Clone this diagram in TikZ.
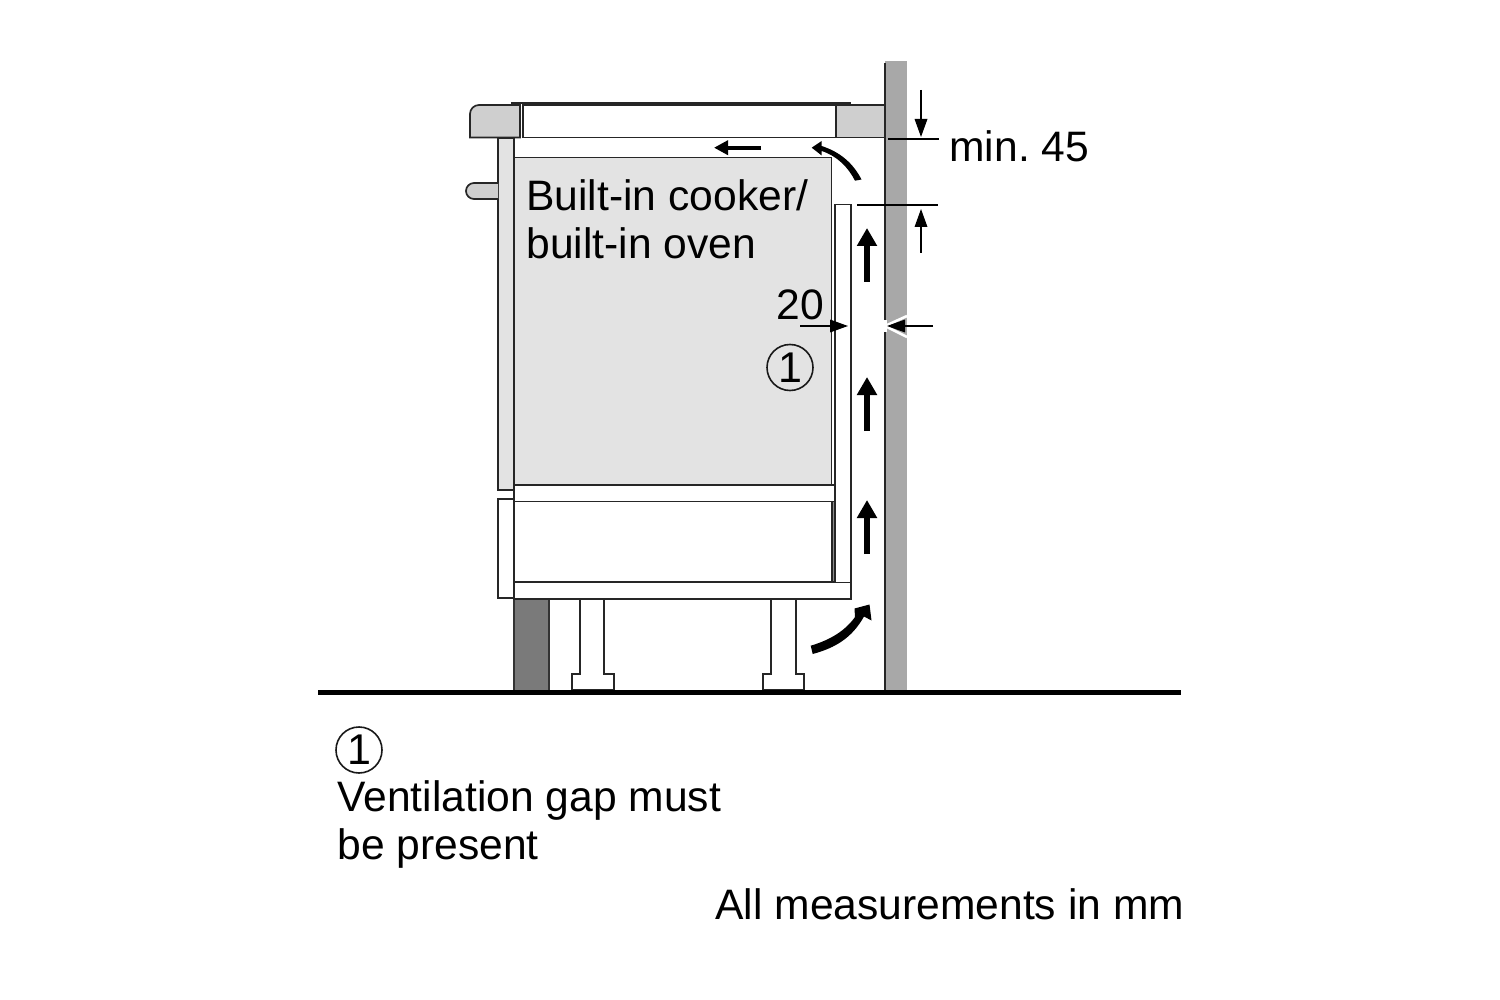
\documentclass[tikz,border=0pt]{standalone}
\usepackage{fontspec}
\setmainfont{Liberation Sans}
\usetikzlibrary{arrows.meta}
\frenchspacing
\tikzset{
  ln/.style={draw=black!85,line width=.85pt},
  counter/.style={fill=gray!38},
  oven/.style={fill=black!11},
  label/.style={inner sep=0pt,anchor=base west,font=\fontsize{21.3pt}{24pt}\selectfont},
  dimline/.style={draw=black,line width=1pt},
  dimarrow/.style={draw=black,line width=.7pt,-{Triangle[length=9pt,width=6.3pt]}},
  flow/.style={draw=black,line width=3.3pt,-{Triangle[length=9pt,width=9.6pt]}},
  flowleft/.style={draw=black,line width=1.9pt,-{Triangle[length=7pt,width=7pt]}},
  numcircle/.style={draw=black!90,line width=.8pt,circle,minimum size=23pt,inner sep=0pt,font=\fontsize{21.5pt}{22pt}\selectfont},
}
\begin{document}
\begin{tikzpicture}[x=.5pt,y=-.5pt]
\useasboundingbox (0,0) rectangle (1500,1000);
% wall
\fill[gray!68] (885,61) rectangle (907,692);
\draw[ln] (885,63) -- (885,692);
% plinth
\filldraw[fill=black!52,draw=black!80,line width=.8pt] (514,599) rectangle (549,692);
% legs
\draw[ln,fill=white] (580,599) -- (580,674) -- (572,674) -- (572,690) -- (614,690) -- (614,674) -- (604,674) -- (604,599);
\draw[ln,fill=white] (771,599) -- (771,674) -- (763,674) -- (763,690) -- (804,690) -- (804,674) -- (796,674) -- (796,599);
% hob and worktop
\draw[ln,fill=white] (523,105) rectangle (836,137.5);
\filldraw[ln,counter] (520,137.5) -- (470,137.5) -- (470,114) to[out=90,in=180] (479,105) -- (520,105) -- cycle;
\draw[ln] (523,103) -- (523,137.5);
\filldraw[ln,counter] (836,105) rectangle (885,137.5);
\draw[draw=black!85,line width=1.1pt] (511,103) -- (851,103);
% doors
\filldraw[ln,fill=black!11] (498,138) rectangle (514,490);
\filldraw[ln,counter] (498,183) -- (474,183) to[out=180,in=90] (466,191) to[out=-90,in=180] (474,199) -- (498,199);
\draw[ln,fill=white] (498,499) rectangle (514,598);
% oven
\filldraw[ln,oven] (514,157.5) rectangle (831.5,485);
\filldraw[ln,fill=black!45] (831.5,485) rectangle (835,582);
\filldraw[ln,fill=white] (514,485) rectangle (834.5,501.5);
\draw[ln,fill=white] (514,501.5) rectangle (832,582);
\filldraw[ln,fill=black!45] (832,501.5) rectangle (835,582);
\draw[ln,fill=white] (514,582) rectangle (851,599);
\draw[ln,fill=white] (835,582) -- (835,204.5) -- (851,204.5) -- (851,582);
% break in the wall at the gap dimension
\fill[white] (883,320) rectangle (887,332);
\draw[white,line width=1.3pt] (907,316) -- (885,326) -- (907,337);
% floor
\fill[black] (318,690) rectangle (1181,695);
% dimensions
\coordinate (topL) at (888,139);   \coordinate (topR) at (939,139);
\coordinate (lowL) at (857,205); \coordinate (lowR) at (938,205);
\coordinate (a1s) at (921,90);     \coordinate (a1e) at (921,137);
\coordinate (a2s) at (921,253);    \coordinate (a2e) at (921,209);
\coordinate (a3s) at (800,326);    \coordinate (a3e) at (848,326);
\coordinate (a4s) at (933,326);    \coordinate (a4e) at (887,326);
\draw[dimline] (topL) -- (topR);
\draw[dimline] (lowL) -- (lowR);
\draw[dimarrow] (a1s) -- (a1e);
\draw[dimarrow] (a2s) -- (a2e);
\draw[dimarrow] (a3s) -- (a3e);
\draw[dimarrow] (a4s) -- (a4e);
% air flow
\coordinate (f1s) at (867,282); \coordinate (f1e) at (867,228);
\coordinate (f2s) at (867,431); \coordinate (f2e) at (867,377);
\coordinate (f3s) at (867,554); \coordinate (f3e) at (867,500);
\coordinate (f4s) at (761,147.7); \coordinate (f4e) at (714,147.7);
\draw[flow] (f1s) -- (f1e);
\draw[flow] (f2s) -- (f2e);
\draw[flow] (f3s) -- (f3e);
\draw[flowleft] (f4s) -- (f4e);
% curved arrows
\fill[black] (861.5,179.5) .. controls (853,163) and (840,152) .. (821.7,146) -- (821.7,141) -- (811.7,147.7) -- (821.7,155.5) -- (821.7,151) .. controls (837,156) and (848,167) .. (855,180.7) -- cycle;
\fill[black] (810.7,645.7) .. controls (830,640) and (845,631) .. (855,617) -- (854.5,608.5) -- (869.5,604.5) -- (871.5,620.5) -- (864,616.5) .. controls (852,638) and (835,648) .. (812.7,654) -- cycle;
% texts
\node[label] (cooker) at (526,211) {Built-in cooker/};
\node[label] (oventxt) at (526,259) {built-in oven};
\node[label] (min) at (949,162) {min. 45};
\node[label] (twenty) at (776,320) {20};
\node[numcircle] (n1) at (790,367.5) {1};
\node[numcircle] (n2) at (359,750) {1};
\node[label] (vent) at (337,811) {Ventilation gap must};
\node[label] (present) at (337,859) {be present};
\node[label] (all) at (715,919) {All measurements in mm};
\end{tikzpicture}
\end{document}
